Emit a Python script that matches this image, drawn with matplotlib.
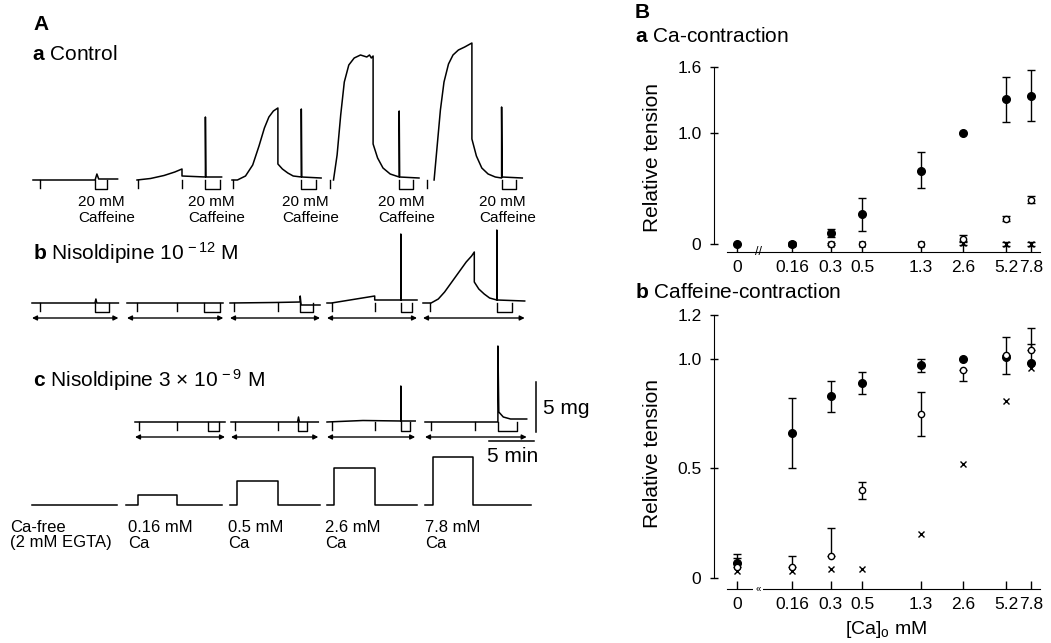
import numpy as np
import matplotlib
matplotlib.use('Agg')
import matplotlib.pyplot as plt
import matplotlib.transforms as mtransforms

plt.rcParams['font.family'] = ['Liberation Sans', 'DejaVu Sans']
plt.rcParams['mathtext.fontset'] = 'custom'
plt.rcParams['mathtext.rm'] = 'Liberation Sans'
plt.rcParams['mathtext.bf'] = 'Liberation Sans:bold'
plt.rcParams['mathtext.it'] = 'Liberation Sans:italic'

W, H = 1051, 643
PX_MIN = 9.0    # pixels per minute in the traces
PX_MG = 10.0    # pixels per mg in the traces

# ---------------- panel A: tension records (time in min, tension in mg) ----------------
# a  Control
ctrl_t = [[0, 6.9, 7.1, 7.3, 9.4],
          [0, 1.5, 3.0, 4.2, 5.0, 5.0, 7.6, 7.6, 7.65, 9.4],
          [0, 0.6, 1.5, 2.3, 3.0, 3.6, 4.1, 4.6, 5.1, 5.1, 5.6, 6.2, 6.8, 7.7, 7.7, 7.75, 9.9],
          [0.5, 0.9, 1.3, 1.7, 2.2, 2.8, 3.5, 4.2, 4.5, 4.7, 4.9, 4.9, 5.4, 6.0, 6.8, 7.8, 7.8, 7.85, 10.0],
          [0.9, 1.2, 1.6, 2.0, 2.5, 3.0, 3.6, 4.3, 5.1, 5.1, 5.6, 6.2, 6.9, 7.7, 8.4, 8.4, 8.45, 10.7]]
ctrl_v = [[0, 0, 0.6, 0.1, 0.1],
          [0, 0.15, 0.45, 0.8, 1.1, 0.4, 0.3, 6.3, 0.3, 0.3],
          [0, 0, 0.4, 1.5, 3.4, 5.2, 6.3, 6.9, 7.2, 1.6, 1.1, 0.7, 0.4, 0.3, 7.1, 0.3, 0.2],
          [0, 2.5, 6.5, 9.8, 11.5, 12.2, 12.5, 12.3, 12.5, 12.2, 12.4, 3.6, 2.2, 1.2, 0.6, 0.3, 6.9, 0.3, 0.2],
          [0, 3.0, 7.0, 9.8, 11.6, 12.5, 13.0, 13.3, 13.7, 4.1, 2.4, 1.2, 0.6, 0.3, 0.2, 7.3, 0.3, 0.2]]
ctrl_ticks = [[0.8], [0.1, 5.0], [0.1], [0.1], [0.1]]
ctrl_box = [(6.9, 8.2), (7.6, 9.2), (7.7, 9.3), (7.8, 9.3), (8.4, 10.0)]
ctrl_x0 = [33, 137, 232, 329, 426]

# b  Nisoldipine 1e-12 M
nis12_t = [[0, 7.0, 7.1, 7.2, 9.6],
           [0, 10.7],
           [0, 5.0, 7.8, 7.8, 7.9, 10.0],
           [0, 0.5, 5.3, 5.3, 8.2, 8.2, 8.25, 10.0],
           [0, 0.9, 1.7, 2.4, 3.2, 4.0, 4.8, 5.4, 5.7, 5.7, 6.2, 6.8, 7.4, 8.2, 8.2, 8.25, 11.3]]
nis12_v = [[0, 0, 0.4, 0, 0],
           [0, 0],
           [0, 0.05, 0.1, 0.7, -0.2, -0.2],
           [0, 0, 0.7, 0.3, 0.3, 6.9, 0.3, 0.3],
           [0, 0, 0.4, 1.1, 2.1, 3.1, 4.1, 4.7, 5.1, 2.1, 1.4, 0.9, 0.5, 0.3, 7.3, 0.3, 0.2]]
nis12_ticks = [[0.9], [1.1, 5.6], [0.4, 5.3], [0.5, 5.3], [0.8]]
nis12_box = [(7.0, 8.6), (8.5, 10.3), (7.8, 9.2), (8.2, 9.4), (8.2, 9.9)]
nis12_x0 = [32, 127, 230, 327, 423]

# c  Nisoldipine 3e-9 M
nis9_t = [[0, 10.0],
          [0, 7.4, 7.5, 7.6, 9.7],
          [0, 4.0, 8.2, 8.2, 8.25, 9.8],
          [0, 8.1, 8.1, 8.2, 8.7, 9.5, 11.3]]
nis9_v = [[0, 0],
          [0, 0, 0.5, 0, 0],
          [0, 0.15, 0.1, 3.6, 0.1, 0.1],
          [0, 0, 7.6, 1.0, 0.5, 0.3, 0.3]]
nis9_ticks = [[0.4, 4.7], [0.4, 5.2], [0.5, 5.3], [0.7, 5.6]]
nis9_box = [(8.1, 9.3), (7.4, 8.4), (8.2, 9.2), (8.1, 10.2)]
nis9_x0 = [135, 231, 327, 425]

# Ca application (schematic step heights)
ca_x0 = [32, 126, 230, 327, 425]
ca_on = [0, 1.3, 0.8, 0.8, 0.9]
ca_off = [0, 5.7, 5.3, 5.3, 5.3]
ca_end = [9.4, 10.7, 10.0, 10.0, 11.8]
ca_level = [0, 1.0, 2.4, 3.7, 4.8]
ca_text = [('Ca-free', '(2 mM EGTA)'), ('0.16 mM', 'Ca'), ('0.5 mM', 'Ca'),
           ('2.6 mM', 'Ca'), ('7.8 mM', 'Ca')]

# ---------------- panel B: relative tension vs [Ca]o ----------------
conc = [0, 0.16, 0.3, 0.5, 1.3, 2.6, 5.2, 7.8]
conc_labels = ['0', '0.16', '0.3', '0.5', '1.3', '2.6', '5.2', '7.8']

# a  Ca-contraction
ca_ctrl = [0.0, 0.0, 0.10, 0.27, 0.66, 1.00, 1.31, 1.34]
ca_ctrl_lo = [0, 0.02, 0.04, 0.15, 0.15, 0, 0.21, 0.23]
ca_ctrl_hi = [0, 0.02, 0.04, 0.15, 0.17, 0, 0.20, 0.23]
ca_n12 = [np.nan, 0.0, 0.0, 0.0, 0.0, 0.05, 0.23, 0.40]
ca_n12_lo = [0, 0.01, 0.01, 0, 0, 0.03, 0.02, 0.03]
ca_n12_hi = [0, 0.01, 0.01, 0, 0, 0.03, 0.02, 0.03]
ca_n9 = [np.nan, 0.0, 0.0, 0.0, 0.0, 0.01, 0.0, 0.0]
ca_n9_lo = [0, 0, 0, 0, 0, 0.02, 0.02, 0.02]
ca_n9_hi = [0, 0, 0, 0, 0, 0.02, 0.02, 0.02]

# b  Caffeine-contraction
cf_ctrl = [0.07, 0.66, 0.83, 0.89, 0.97, 1.00, 1.01, 0.98]
cf_ctrl_lo = [0, 0.16, 0.07, 0.05, 0.03, 0, 0.08, 0]
cf_ctrl_hi = [0.04, 0.16, 0.07, 0.05, 0.03, 0, 0, 0.09]
cf_n12 = [0.05, 0.05, 0.10, 0.40, 0.75, 0.95, 1.02, 1.04]
cf_n12_lo = [0, 0, 0, 0.04, 0.10, 0.05, 0, 0]
cf_n12_hi = [0.04, 0.05, 0.13, 0.04, 0.10, 0, 0.08, 0.10]
cf_n9 = [0.03, 0.03, 0.04, 0.04, 0.20, 0.52, 0.81, 0.96]

ZERO_POS = -1.184   # where "0" sits on the broken log axis
BREAK_POS = -1.035

fig = plt.figure(figsize=(W / 100, H / 100), dpi=100)
axA = fig.add_axes([0, 0, 1, 1])
axA.set_xlim(0, W)
axA.set_ylim(H, 0)
axA.axis('off')


def seg_tr(x0, base):
    return mtransforms.Affine2D().scale(PX_MIN, -PX_MG).translate(x0, base) + axA.transData


def ftext(x, y, s, **kw):
    kw.setdefault('va', 'center')
    fig.text(x / W, 1 - y / H, s, **kw)


def draw_row(x0s, base, ts, vs, ticks, boxes, arrows):
    for x0, t, v, tk, bx in zip(x0s, ts, vs, ticks, boxes):
        tr = seg_tr(x0, base)
        axA.plot(t, v, color='k', lw=1.1, transform=tr)
        for tt in tk:
            axA.plot([tt, tt], [0, -0.8], color='k', lw=1.0, transform=tr)
        axA.plot([bx[0], bx[0], bx[1], bx[1]], [0, -0.9, -0.9, 0], color='k', lw=1.0, transform=tr)
        if arrows:
            axA.annotate('', xy=(t[-1], -1.5), xytext=(0, -1.5), xycoords=tr, textcoords=tr,
                         arrowprops=dict(arrowstyle='<|-|>', color='k', lw=1.0,
                                         mutation_scale=7, shrinkA=0, shrinkB=0))


draw_row(ctrl_x0, 180, ctrl_t, ctrl_v, ctrl_ticks, ctrl_box, False)
draw_row(nis12_x0, 303, nis12_t, nis12_v, nis12_ticks, nis12_box, True)
draw_row(nis9_x0, 422, nis9_t, nis9_v, nis9_ticks, nis9_box, True)

for x0, on, off, end, lev in zip(ca_x0, ca_on, ca_off, ca_end, ca_level):
    tr = seg_tr(x0, 505)
    if lev > 0:
        axA.plot([0, on, on, off, off, end], [0, 0, lev, lev, 0, 0], color='k', lw=1.1, transform=tr)
    else:
        axA.plot([0, end], [0, 0], color='k', lw=1.1, transform=tr)

# scale bars
axA.plot([0, 0], [0, 5], color='k', lw=1.1, transform=seg_tr(536, 432))
axA.plot([0, 5], [0, 0], color='k', lw=1.1, transform=seg_tr(489, 441))
ftext(543, 408, '5 mg', fontsize=15)
ftext(487, 456, '5 min', fontsize=15)

ftext(33, 25, 'A', fontsize=15, fontweight='bold')
ftext(32, 55, r'$\mathbf{a}$ Control', fontsize=15)
for x in [78, 188, 282, 378, 479]:
    ftext(x, 202, '20 mM', fontsize=11)
    ftext(x, 218, 'Caffeine', fontsize=11)
ftext(33, 253, r'$\mathbf{b}$ Nisoldipine 10$^{\,-12}$ M', fontsize=15)
ftext(33, 380, r'$\mathbf{c}$ Nisoldipine 3 $\times$ 10$^{\,-9}$ M', fontsize=15)
for x, (l1, l2) in zip([10, 128, 228, 325, 425], ca_text):
    ftext(x, 527, l1, fontsize=12)
    ftext(x, 543, l2, fontsize=12)

# ---------------- panel B axes ----------------
c = np.array(conc, float)
xpos = np.where(c > 0, np.log10(np.where(c > 0, c, 1.0)), ZERO_POS)


def setup(ax, ylim, yticks, ylabels, gap):
    ax.set_xlim(-1.347, 0.991)
    ax.set_ylim(*ylim)
    ax.patch.set_alpha(0)
    for s in ['top', 'right']:
        ax.spines[s].set_visible(False)
    ax.spines['left'].set_bounds(yticks[0], yticks[-1])
    ax.spines['bottom'].set_bounds(-1.255, 0.956)
    ax.set_xticks(xpos, conc_labels)
    ax.set_yticks(yticks, ylabels)
    ax.tick_params(axis='x', direction='in', length=6, width=1, pad=6, labelsize=12.5)
    ax.tick_params(axis='y', direction='inout', length=6, width=1, pad=6, labelsize=12.5)
    bt = mtransforms.blended_transform_factory(ax.transData, ax.transAxes)
    if gap:
        ax.text(BREAK_POS, 0, '\u00ab', transform=bt, ha='center', va='center', fontsize=7,
                bbox=dict(fc='white', ec='none', pad=1.5))
    else:
        ax.text(BREAK_POS, 0, '//', transform=bt, ha='center', va='center', fontsize=9)


def series(ax, mean, lo, hi, marker, ms, mfc):
    m = np.array(mean, float)
    lo = np.array(lo, float)
    hi = np.array(hi, float)
    has = (lo + hi) > 0
    if has.any():
        ax.errorbar(xpos[has], m[has], yerr=[lo[has], hi[has]], fmt='none', ecolor='k',
                    elinewidth=1, capsize=3, capthick=1, zorder=2)
    ax.plot(xpos, m, marker, ms=ms, mfc=mfc, mec='k', mew=1, color='k', ls='none', zorder=3)


axBa = fig.add_axes([714 / W, 1 - 252 / H, 331 / W, (252 - 60) / H])
setup(axBa, (-0.072, 1.664), [0, 1.0, 1.6], ['0', '1.0', '1.6'], False)
series(axBa, ca_n9, ca_n9_lo, ca_n9_hi, 'x', 4.5, 'k')
series(axBa, ca_n12, ca_n12_lo, ca_n12_hi, 'o', 4.5, 'white')
series(axBa, ca_ctrl, ca_ctrl_lo, ca_ctrl_hi, 'o', 5.5, 'k')

axBb = fig.add_axes([714 / W, 1 - 589 / H, 331 / W, (589 - 305) / H])
setup(axBb, (-0.050, 1.246), [0, 0.5, 1.0, 1.2], ['0', '0.5', '1.0', '1.2'], True)
series(axBb, cf_n9, [0] * 8, [0] * 8, 'x', 4.5, 'k')
series(axBb, cf_ctrl, cf_ctrl_lo, cf_ctrl_hi, 'o', 5.5, 'k')
series(axBb, cf_n12, cf_n12_lo, cf_n12_hi, 'o', 4.5, 'white')

ftext(635, 13, 'B', fontsize=15, fontweight='bold')
ftext(635, 37, r'$\mathbf{a}$ Ca-contraction', fontsize=15)
ftext(635, 292, r'$\mathbf{b}$ Caffeine-contraction', fontsize=15)
ftext(652, 158, 'Relative tension', fontsize=15, rotation=90, ha='center')
ftext(652, 453, 'Relative tension', fontsize=15, rotation=90, ha='center')
ftext(886, 630, r'[Ca]$_{\mathrm{o}}$ mM', fontsize=14, ha='center')

fig.savefig('out.png', dpi=100)
